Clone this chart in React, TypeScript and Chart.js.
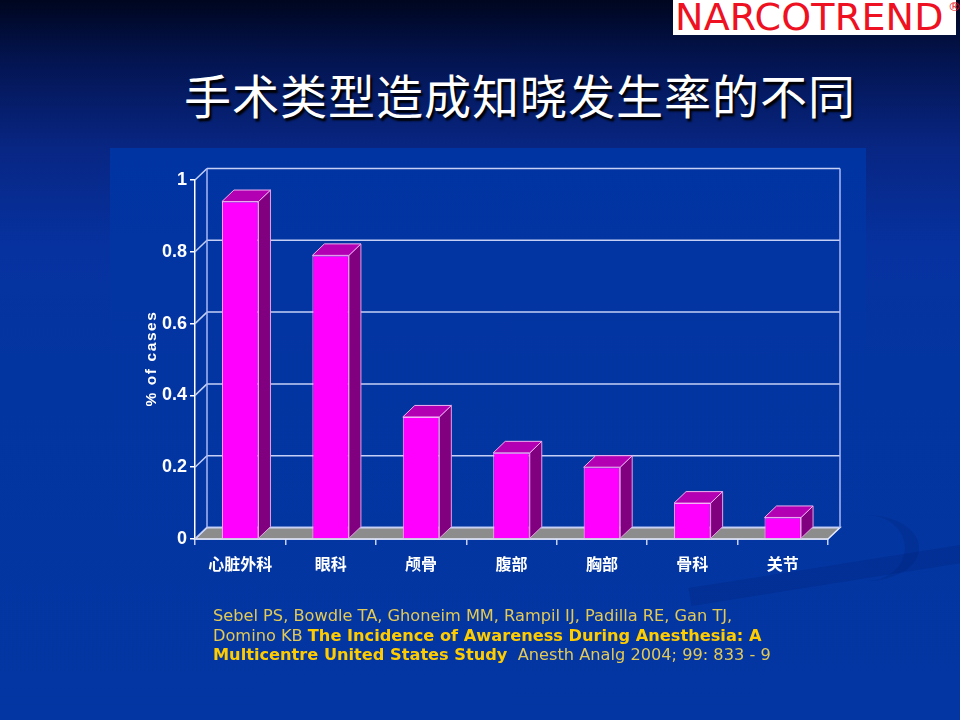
import { useEffect, useRef } from "react";
import { Chart, registerables } from "chart.js";
import type { Plugin } from "chart.js";

Chart.register(...registerables);

// data
const surgeryTypes = ["心脏外科", "眼科", "颅骨", "腹部", "胸部", "骨科", "关节"];
const awarenessRates = [0.94, 0.79, 0.34, 0.24, 0.2, 0.1, 0.06];
const yTickLabels = ["0", "0.2", "0.4", "0.6", "0.8", "1"];

const DEPTH_X = 12;
const DEPTH_Y = -11.5;
const WALL_LINE = "#c6d0f6";

function line(ctx: CanvasRenderingContext2D, x1: number, y1: number, x2: number, y2: number) {
  ctx.beginPath();
  ctx.moveTo(x1, y1);
  ctx.lineTo(x2, y2);
  ctx.stroke();
}

function poly(ctx: CanvasRenderingContext2D, pts: number[][], fill: string, stroke: string) {
  ctx.beginPath();
  ctx.moveTo(pts[0][0], pts[0][1]);
  for (let i = 1; i < pts.length; i++) ctx.lineTo(pts[i][0], pts[i][1]);
  ctx.closePath();
  ctx.fillStyle = fill;
  ctx.fill();
  ctx.strokeStyle = stroke;
  ctx.stroke();
}

// fake 3D: floor, back wall gridlines, bar sides and tops
const box3d: Plugin<"bar"> = {
  id: "box3d",
  beforeDatasetsDraw(chart) {
    const { ctx, chartArea } = chart;
    const y = chart.scales.y;
    const left = chartArea.left;
    const right = chartArea.right;
    const base = y.getPixelForValue(0);
    const top = y.getPixelForValue(1);

    ctx.save();
    ctx.lineWidth = 1.5;
    poly(
      ctx,
      [
        [left, base],
        [right, base],
        [right + DEPTH_X, base + DEPTH_Y],
        [left + DEPTH_X, base + DEPTH_Y],
      ],
      "#8c8c8c",
      "#e8ecff"
    );

    ctx.strokeStyle = WALL_LINE;
    y.ticks.forEach((t) => {
      const py = y.getPixelForValue(t.value);
      line(ctx, left, py, left + DEPTH_X, py + DEPTH_Y);
      line(ctx, left + DEPTH_X, py + DEPTH_Y, right + DEPTH_X, py + DEPTH_Y);
    });
    ctx.strokeStyle = "#a9b9f5";
    line(ctx, left + DEPTH_X, top + DEPTH_Y, left + DEPTH_X, base + DEPTH_Y);
    line(ctx, right + DEPTH_X, top + DEPTH_Y, right + DEPTH_X, base + DEPTH_Y);
    ctx.restore();
  },
  afterDatasetsDraw(chart) {
    const { ctx } = chart;
    const meta = chart.getDatasetMeta(0);
    ctx.save();
    ctx.lineWidth = 1;
    meta.data.forEach((bar) => {
      const { x, y, base, width } = bar.getProps(["x", "y", "base", "width"], true) as any;
      const l = x - width / 2;
      const r = x + width / 2;
      poly(
        ctx,
        [
          [r, y],
          [r + DEPTH_X, y + DEPTH_Y],
          [r + DEPTH_X, base + DEPTH_Y],
          [r, base],
        ],
        "#800080",
        "#e6a0e6"
      );
      poly(
        ctx,
        [
          [l, y],
          [r, y],
          [r + DEPTH_X, y + DEPTH_Y],
          [l + DEPTH_X, y + DEPTH_Y],
        ],
        "#b300b3",
        "#f0b0f0"
      );
    });
    ctx.restore();
  },
  afterDraw(chart) {
    const { ctx, chartArea } = chart;
    ctx.save();
    ctx.translate(152, (chartArea.top + chartArea.bottom) / 2 - 1);
    ctx.rotate(-Math.PI / 2);
    ctx.font = "bold 15.5px 'Liberation Sans', Arial, sans-serif";
    (ctx as any).letterSpacing = "1.6px";
    ctx.fillStyle = "#ffffff";
    ctx.textAlign = "center";
    ctx.textBaseline = "middle";
    ctx.fillText("% of cases", 0, 0);
    ctx.restore();
  },
};

function AwarenessChart() {
  const canvasRef = useRef<HTMLCanvasElement>(null);

  useEffect(() => {
    if (!canvasRef.current) return;

    const chart = new Chart(canvasRef.current, {
      type: "bar",
      data: {
        labels: surgeryTypes,
        datasets: [
          {
            data: awarenessRates,
            backgroundColor: "#ff00ff",
            borderColor: "#ffb0ff",
            borderWidth: 1,
            categoryPercentage: 1,
            barPercentage: 0.404,
          },
        ],
      },
      options: {
        responsive: true,
        maintainAspectRatio: false,
        animation: false,
        layout: { padding: { left: 135, right: 132, top: 180, bottom: 131 } },
        plugins: {
          legend: { display: false },
          tooltip: { enabled: false },
        },
        scales: {
          x: {
            afterFit: (scale) => {
              scale.height = 50;
            },
            grid: {
              display: true,
              drawOnChartArea: false,
              drawTicks: true,
              tickLength: 6,
              color: WALL_LINE,
              lineWidth: 1.5,
            },
            border: { display: true, color: "#ffffff", width: 1.5 },
            ticks: {
              color: "#ffffff",
              padding: 9,
              font: { family: "'Noto Sans CJK SC', sans-serif", weight: "bold", size: 16 },
            },
          },
          y: {
            min: 0,
            max: 1,
            afterFit: (scale) => {
              scale.width = 60;
            },
            grid: {
              display: true,
              drawOnChartArea: false,
              drawTicks: true,
              tickLength: 5,
              color: "#ffffff",
              lineWidth: 1.5,
            },
            border: { display: true, color: "#ffffff", width: 1.5 },
            ticks: {
              stepSize: 0.2,
              color: "#ffffff",
              padding: 3,
              font: {
                family: "'Liberation Sans Narrow', 'Arial Narrow', 'Liberation Sans', sans-serif",
                weight: "bold",
                size: 18,
              },
              callback: (_v, i) => yTickLabels[i],
            },
          },
        },
      },
      plugins: [box3d],
    });

    return () => chart.destroy();
  }, []);

  return (
    <div style={{ position: "absolute", left: 0, top: 0, width: 960, height: 720 }}>
      <canvas ref={canvasRef} />
    </div>
  );
}

const citeBase: React.CSSProperties = {
  position: "absolute",
  left: 213,
  top: 606,
  fontFamily: "'DejaVu Sans', Verdana, sans-serif",
  fontSize: 16.2,
  lineHeight: "19.5px",
  color: "#e3c955",
  whiteSpace: "nowrap",
};

export default function App() {
  return (
    <div
      style={{
        position: "absolute",
        left: 0,
        top: 0,
        width: 960,
        height: 720,
        overflow: "hidden",
        background:
          "linear-gradient(to bottom, #00061f 0px, #031450 60px, #082684 150px, #0632a0 250px, #0335a0 360px, #0336a2 720px)",
      }}
    >
      {/* chart panel, a touch lighter than the slide */}
      <div
        style={{
          position: "absolute",
          left: 110,
          top: 148,
          width: 756,
          height: 480,
          background: "linear-gradient(to bottom, #0034a2 0px, #0335a2 140px, rgba(3,53,162,0) 480px)",
        }}
      />
      {/* faint swoosh at the lower right */}
      <div
        style={{
          position: "absolute",
          left: 690,
          top: 588,
          width: 300,
          height: 18,
          background: "rgba(0,28,110,0.22)",
          transform: "rotate(-9deg)",
          transformOrigin: "left center",
        }}
      />
      <div
        style={{
          position: "absolute",
          left: 815,
          top: 515,
          width: 90,
          height: 66,
          borderRadius: "50%",
          borderRight: "14px solid rgba(0,28,110,0.2)",
        }}
      />

      <div
        style={{
          position: "absolute",
          left: 673,
          top: 0,
          width: 283,
          height: 35,
          background: "#ffffff",
        }}
      />
      <div
        style={{
          position: "absolute",
          left: 675,
          top: -5,
          fontFamily: "'DejaVu Sans', sans-serif",
          fontSize: 38,
          letterSpacing: 0.2,
          color: "#ee1122",
          whiteSpace: "nowrap",
        }}
      >
        NARCOTREND
      </div>
      <div
        style={{
          position: "absolute",
          left: 948,
          top: -1,
          fontFamily: "'DejaVu Sans', sans-serif",
          fontSize: 13,
          color: "#ee1122",
        }}
      >
        ®
      </div>

      <div
        style={{
          position: "absolute",
          left: 184,
          top: 64,
          fontFamily: "'Noto Sans CJK SC', sans-serif",
          fontWeight: 400,
          fontSize: 47,
          lineHeight: "60px",
          letterSpacing: 1,
          color: "#ffffff",
          textShadow: "2px 3px 2px #000000",
          whiteSpace: "nowrap",
        }}
      >
        手术类型造成知晓发生率的不同
      </div>

      <AwarenessChart />

      <div style={citeBase}>
        Sebel PS, Bowdle TA, Ghoneim MM, Rampil IJ, Padilla RE, Gan TJ,
        <br />
        Domino KB <b style={{ color: "#ffcc00" }}>The Incidence of Awareness During Anesthesia: A</b>
        <br />
        <b style={{ color: "#ffcc00" }}>Multicentre United States Study</b>&nbsp; Anesth Analg 2004; 99: 833 - 9
      </div>
    </div>
  );
}
